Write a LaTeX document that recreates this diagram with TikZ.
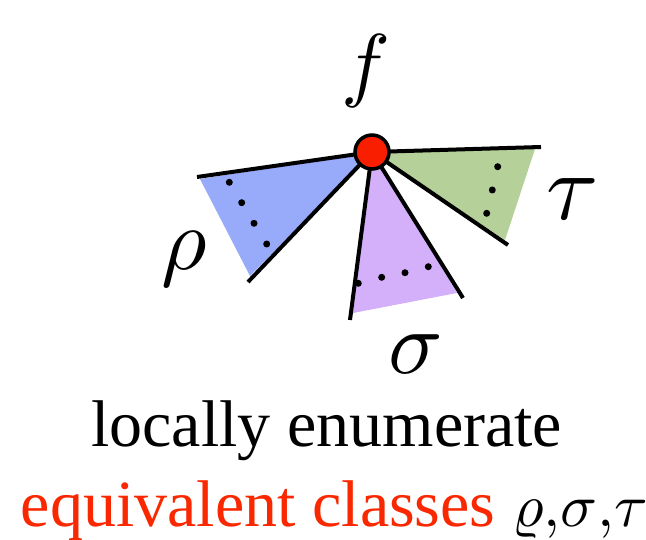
\documentclass[tikz,border=0pt]{standalone}
\usepackage{fontspec}
\setmainfont{Liberation Serif}
\definecolor{bluef}{RGB}{152,170,250}
\definecolor{purplef}{RGB}{212,176,250}
\definecolor{greenf}{RGB}{181,208,152}
\definecolor{redc}{RGB}{250,30,0}
\definecolor{redt}{RGB}{250,40,0}
\newcommand{\bigmath}[2]{\scalebox{#1}{\normalsize$#2$}}
\tikzset{
  edge/.style={line width=4pt, line cap=butt},
  dotm/.style={circle, fill=black, inner sep=0pt, minimum size=7pt},
  glabel/.style={inner sep=0pt},
  captxt/.style={inner sep=0pt, font=\fontsize{66}{80}\selectfont},
}
\begin{document}
\begin{tikzpicture}[x=1pt,y=-1pt]
\useasboundingbox (0,0) rectangle (646,540);
\coordinate (C) at (372,152);
% end points
\coordinate (b1) at (197,177);
\coordinate (b2) at (248,282);
\coordinate (p1) at (350,320);
\coordinate (p2) at (463,298);
\coordinate (g1) at (541,147);
\coordinate (g2) at (508,245);
% fills
\fill[bluef] (C) -- (200,179) -- (250,276) -- cycle;
\fill[purplef] (C) -- (353,313) -- (457,293) -- cycle;
\fill[greenf] (C) -- (535,149) -- (505,240) -- cycle;
% dots
\node[dotm] (bd1) at (229.3,182.3) {};
\node[dotm] (bd2) at (241.7,202.7) {};
\node[dotm] (bd3) at (254,223.3) {};
\node[dotm] (bd4) at (266.7,244) {};
\node[dotm] (pd1) at (358.3,283.3) {};
\node[dotm] (pd2) at (381.7,277.3) {};
\node[dotm] (pd3) at (405,272.7) {};
\node[dotm] (pd4) at (428.3,266.7) {};
\node[dotm] (gd1) at (497.7,166.7) {};
\node[dotm] (gd2) at (492.3,190) {};
\node[dotm] (gd3) at (486.7,213.3) {};
% edges
\draw[edge] (C) -- (b1);
\draw[edge] (C) -- (b2);
\draw[edge] (C) -- (p1);
\draw[edge] (C) -- (p2);
\draw[edge] (C) -- (g1);
\draw[edge] (C) -- (g2);
% vertex
\node[circle, draw=black, line width=3.5pt, fill=redc, minimum size=34pt, inner sep=0pt] (f) at (C) {};
% labels
\node[glabel] (lf) at (366,71) {\bigmath{8.2}{f}};
\node[glabel] (lrho) at (184,259) {\bigmath{8.8}{\rho}};
\node[glabel] (ltau) at (573,199) {\bigmath{9.5}{\tau}};
\node[glabel] (lsigma) at (416,354) {\bigmath{9}{\sigma}};
% caption
\node[captxt, anchor=base] (cap1) at (326.7,446.7) {locally enumerate};
\node[captxt, anchor=base west] (cap2) at (20.7,526.7) {\textcolor{redt}{equivalent classes} \bigmath{6.1}{\varrho{,}\sigma{,}\tau}};
\end{tikzpicture}
\end{document}
